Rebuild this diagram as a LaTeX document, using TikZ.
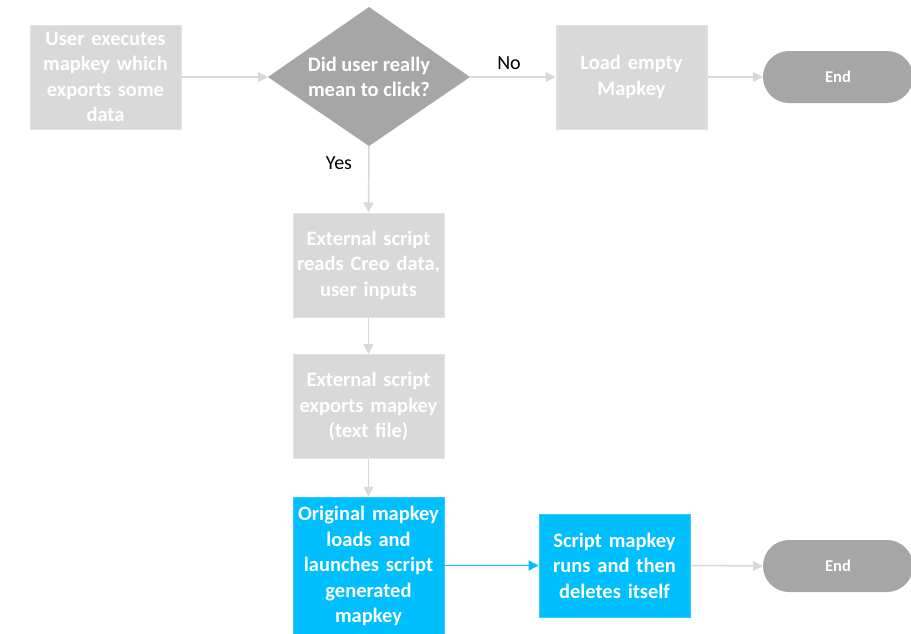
\documentclass[tikz,border=0pt]{standalone}
\usepackage{fontspec}
\setmainfont{Carlito}
\usetikzlibrary{arrows.meta}
\definecolor{boxgray}{HTML}{D9D9D9}
\definecolor{boxedge}{HTML}{E3E3E3}
\definecolor{darkgray}{HTML}{A6A6A6}
\definecolor{skyblue}{HTML}{00BFFF}
\definecolor{lineg}{HTML}{D9D9D9}
\tikzset{
  x=1pt,y=-1pt,
  procbox/.style={draw=boxedge,line width=1pt,fill=boxgray,minimum width=151pt,minimum height=104pt,
    text width=150pt,align=center,inner sep=0pt,text=white,
    font=\fontsize{20.5}{25.5}\selectfont\bfseries},
  bluebox/.style={procbox,fill=skyblue,draw=skyblue!80!white},
  terminal/.style={rectangle,rounded corners=26pt,fill=darkgray,draw=none,minimum width=150pt,minimum height=52pt,
    text=white,font=\fontsize{16.5}{18}\selectfont\bfseries},
  dtext/.style={text=white,align=center,font=\fontsize{20.5}{25.5}\selectfont\bfseries},
  conn/.style={draw=lineg,line width=1.5pt,-{Triangle[length=10pt,width=10pt]}},
  bconn/.style={draw=skyblue,line width=1.5pt,-{Triangle[length=10pt,width=10pt]}},
  lbl/.style={font=\fontsize{20}{22}\selectfont,text=black}
}
\begin{document}
\begin{tikzpicture}
\useasboundingbox (0,0) rectangle (911,633);
\clip (0,0) rectangle (911,633);
\node[procbox] (a) at (105.5,77) {User executes\\mapkey which\\exports some\\data};
\coordinate (dl) at (268,77);
\coordinate (dr) at (470,77);
\coordinate (dt) at (369,7);
\coordinate (db) at (369,146);
\path[fill=darkgray] (dl) -- (dt) -- (dr) -- (db) -- cycle;
\node[dtext] (d) at (369,77) {Did user really\\mean to click?};
\node[procbox] (b) at (631.5,77) {Load empty\\Mapkey};
\node[terminal] (e1) at (838,77) {End};
\node[procbox] (c) at (368.5,265) {External script\\reads Creo data,\\user inputs};
\node[procbox] (f) at (368.5,406.5) {External script\\exports mapkey\\(text file)};
\node[bluebox,minimum height=138pt] (g) at (368.5,566) {Original mapkey\\loads and\\launches script\\generated\\mapkey};
\node[bluebox,minimum height=103pt] (h) at (614.5,565.5) {Script mapkey\\runs and then\\deletes itself};
\node[terminal] (e2) at (838,566) {End};
\node[lbl] (no) at (509,63) {No};
\node[lbl] (yes) at (339,163) {Yes};
\draw[conn] (a.east) -- (dl);
\draw[conn] (dr) -- (b.west);
\draw[conn] (b.east) -- (e1.west);
\draw[conn] (db) -- (c.north);
\draw[conn] (c.south) -- (f.north);
\draw[conn] (f.south) -- (g.north);
\draw[bconn] (g.east |- h.west) -- (h.west);
\draw[conn] (h.east) -- (e2.west);
\end{tikzpicture}
\end{document}
